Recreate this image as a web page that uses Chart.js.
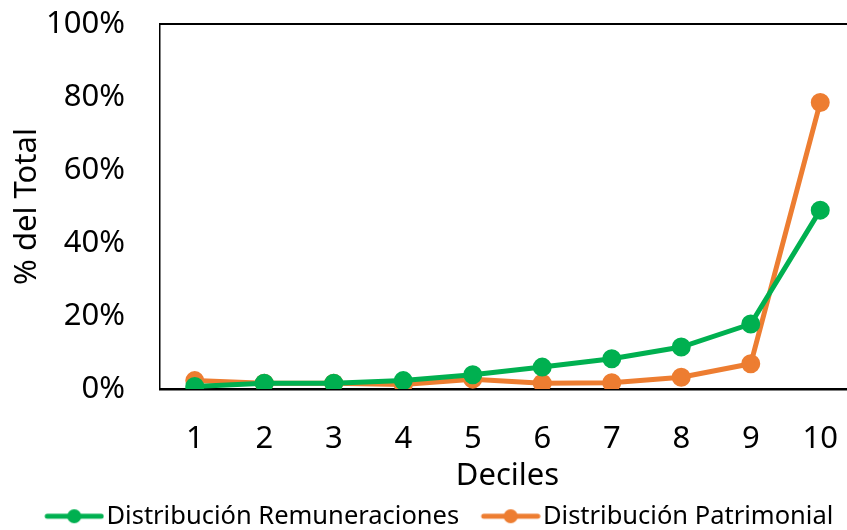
<!DOCTYPE html>
<html>
<head>
<meta charset="utf-8">
<script src="https://cdn.jsdelivr.net/npm/chart.js@4"></script>
<style>
  html, body { margin: 0; padding: 0; background: #fff; overflow: hidden; }
  #wrap { width: 860px; height: 539px; }
</style>
</head>
<body>
<div id="wrap"><canvas id="grafico"></canvas></div>
<script>
// ======== Datos ========
const deciles = ['1', '2', '3', '4', '5', '6', '7', '8', '9', '10'];
const remuneraciones = [0.7, 1.6, 1.6, 2.3, 3.9, 6.0, 8.3, 11.5, 17.8, 49.0];
const patrimonial = [2.3, 1.6, 1.6, 1.2, 2.7, 1.6, 1.7, 3.2, 6.9, 78.5];
const nombresSeries = ['Distribución Remuneraciones', 'Distribución Patrimonial'];

const VERDE = '#00B050';
const NARANJA = '#ED7D31';
const FUENTE = "'Noto Sans', 'Open Sans', sans-serif";

// icono de leyenda: linea con punto, con margen transparente a la izquierda
function iconoLeyenda(color) {
  const c = document.createElement('canvas');
  c.width = 88;
  c.height = 16;
  const ctx = c.getContext('2d');
  const x0 = 28;
  ctx.strokeStyle = color;
  ctx.lineWidth = 5;
  ctx.lineCap = 'round';
  ctx.beginPath();
  ctx.moveTo(x0 + 3, 8);
  ctx.lineTo(x0 + 57, 8);
  ctx.stroke();
  ctx.fillStyle = color;
  ctx.beginPath();
  ctx.arc(x0 + 30, 8, 7, 0, Math.PI * 2);
  ctx.fill();
  return c;
}

// linea superior del marco
const marcoSuperior = {
  id: 'marcoSuperior',
  afterDraw(chart) {
    const { ctx, chartArea } = chart;
    ctx.save();
    ctx.strokeStyle = '#000';
    ctx.lineWidth = 2;
    ctx.beginPath();
    ctx.moveTo(chartArea.left, chartArea.top);
    ctx.lineTo(chartArea.right + 30, chartArea.top);
    ctx.stroke();
    ctx.restore();
  },
};

const iconos = [iconoLeyenda(VERDE), iconoLeyenda(NARANJA)];

new Chart(document.getElementById('grafico').getContext('2d'), {
  type: 'line',
  data: {
    labels: deciles,
    datasets: [
      {
        label: nombresSeries[0],
        data: remuneraciones,
        borderColor: VERDE,
        backgroundColor: VERDE,
        borderWidth: 5,
        pointRadius: 7,
        pointHoverRadius: 7,
        pointStyle: 'circle',
      },
      {
        label: nombresSeries[1],
        data: patrimonial,
        borderColor: NARANJA,
        backgroundColor: NARANJA,
        borderWidth: 5,
        pointRadius: 7,
        pointHoverRadius: 7,
        pointStyle: 'circle',
      },
    ],
  },
  options: {
    responsive: true,
    maintainAspectRatio: false,
    animation: false,
    layout: { autoPadding: false, padding: { top: 24, left: 0, right: 0, bottom: 0 } },
    plugins: {
      tooltip: { enabled: false },
      legend: {
        position: 'bottom',
        labels: {
          font: { family: FUENTE, size: 25.5 },
          color: '#000',
          usePointStyle: true,
          pointStyleWidth: 67,
          padding: 4,
          generateLabels(chart) {
            return chart.data.datasets.map((ds, i) => ({
              text: ds.label,
              pointStyle: iconos[i],
              fillStyle: ds.borderColor,
              strokeStyle: ds.borderColor,
              lineWidth: 0,
              datasetIndex: i,
              fontColor: '#000',
            }));
          },
        },
      },
    },
    scales: {
      x: {
        offset: true,
        grid: { display: false, drawTicks: false },
        border: { color: '#000', width: 2.5 },
        ticks: { font: { family: FUENTE, size: 31 }, color: '#000', padding: 32 },
        title: {
          display: true,
          text: 'Deciles',
          font: { family: FUENTE, size: 31 },
          color: '#000',
          padding: { top: 0, bottom: 5 },
        },
        afterFit(scale) {
          scale.height = 110.5;
          scale.paddingLeft = 0;
          scale.paddingRight = 5;
        },
      },
      y: {
        min: 0,
        max: 100,
        grid: { display: false, drawTicks: false },
        border: { color: '#000', width: 1.5 },
        ticks: {
          stepSize: 20,
          font: { family: FUENTE, size: 31 },
          color: '#000',
          padding: 35,
          callback: (v) => v + '%',
        },
        title: {
          display: true,
          text: '% del Total',
          font: { family: FUENTE, size: 31 },
          color: '#000',
          padding: { top: 9, bottom: 0 },
        },
        afterFit(scale) {
          scale.width = 160;
          scale.paddingTop = 0;
          scale.paddingBottom = 0;
        },
      },
    },
  },
  plugins: [marcoSuperior],
});
</script>
</body>
</html>
